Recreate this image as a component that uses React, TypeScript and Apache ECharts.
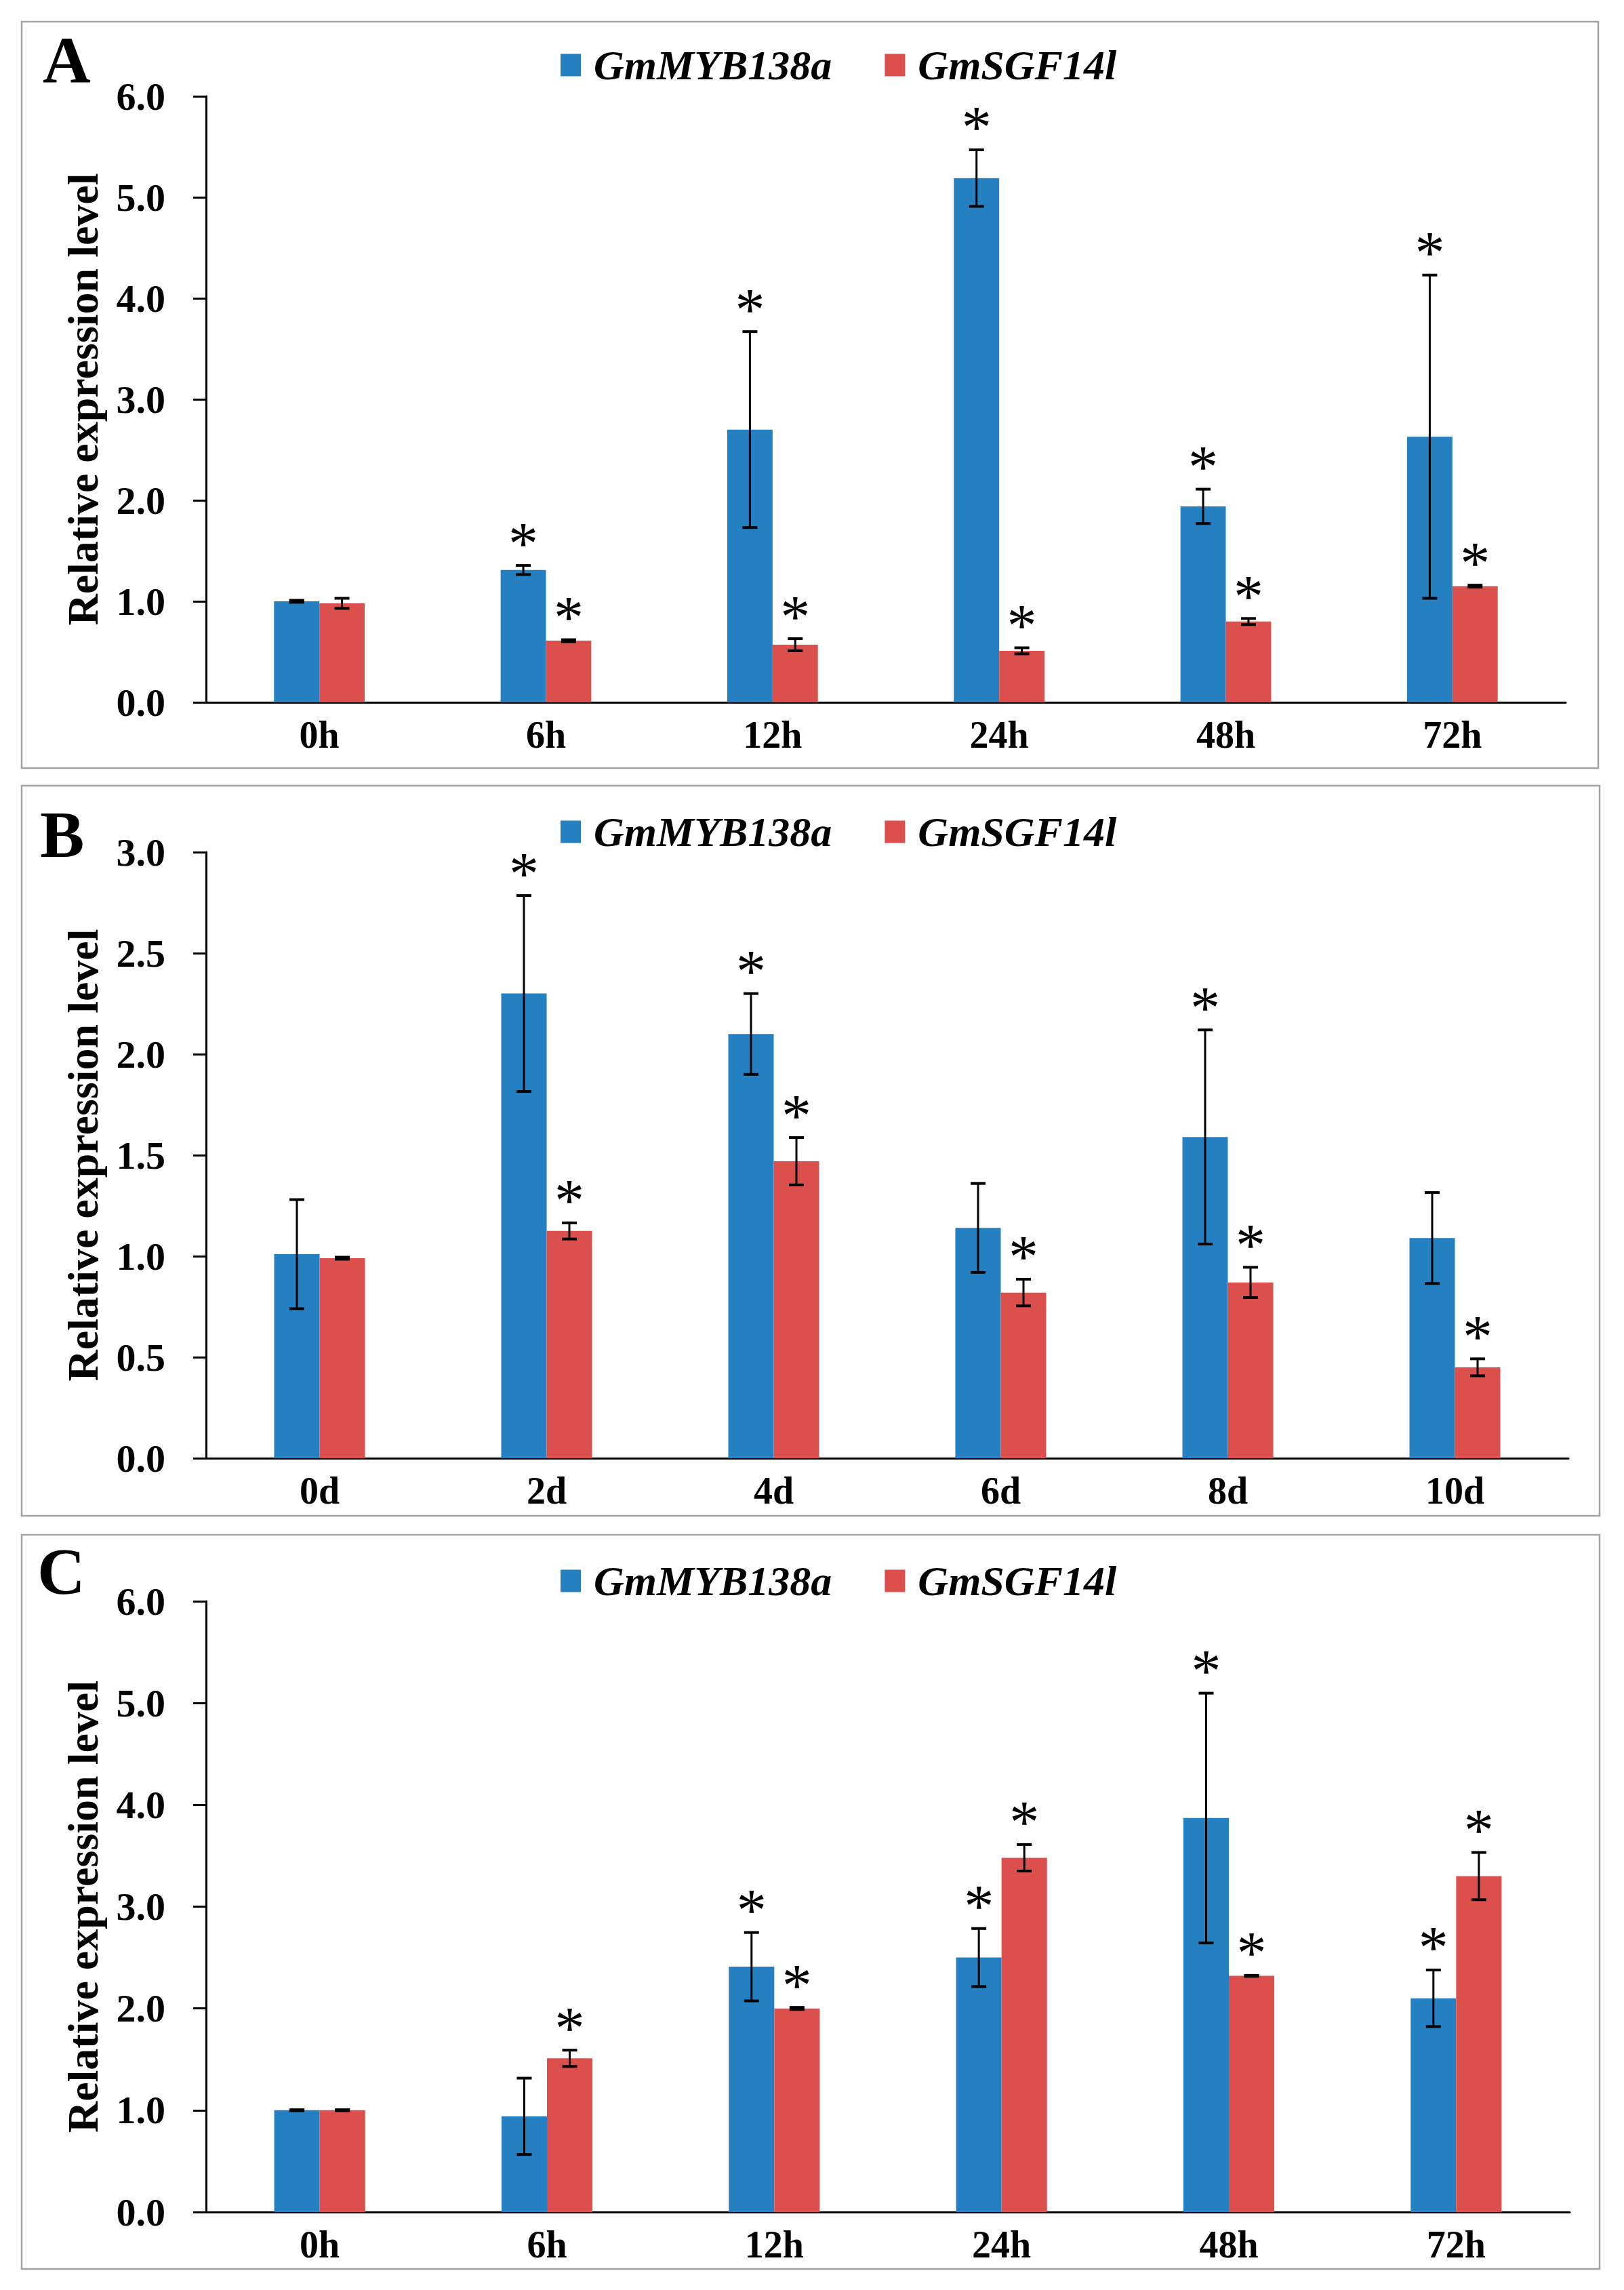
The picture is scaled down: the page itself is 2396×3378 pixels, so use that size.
import React, { useEffect, useRef } from "react";
import * as echarts from "echarts";

// ---------- Data ----------
const seriesNames = ["GmMYB138a", "GmSGF14l"];

// Panel A
const catsA = ["0h", "6h", "12h", "24h", "48h", "72h"];
const mybA = [1.0, 1.31, 2.7, 5.19, 1.94, 2.63];
const mybAErr = [0.01, 0.045, 0.97, 0.28, 0.17, 1.6];
const mybASig = [0, 1, 1, 1, 1, 1];
const sgfA = [0.98, 0.61, 0.57, 0.51, 0.8, 1.15];
const sgfAErr = [0.05, 0.01, 0.06, 0.03, 0.03, 0.01];
const sgfASig = [0, 1, 1, 1, 1, 1];

// Panel B
const catsB = ["0d", "2d", "4d", "6d", "8d", "10d"];
const mybB = [1.01, 2.3, 2.1, 1.14, 1.59, 1.09];
const mybBErr = [0.27, 0.485, 0.2, 0.22, 0.53, 0.225];
const mybBSig = [0, 1, 1, 0, 1, 0];
const sgfB = [0.99, 1.125, 1.47, 0.82, 0.87, 0.45];
const sgfBErr = [0.005, 0.04, 0.117, 0.066, 0.075, 0.042];
const sgfBSig = [0, 1, 1, 1, 1, 1];

// Panel C
const catsC = ["0h", "6h", "12h", "24h", "48h", "72h"];
const mybC = [1.0, 0.94, 2.41, 2.5, 3.87, 2.1];
const mybCErr = [0.005, 0.375, 0.336, 0.285, 1.227, 0.278];
const mybCSig = [0, 0, 1, 1, 1, 1];
const sgfC = [1.0, 1.51, 2.0, 3.48, 2.32, 3.3];
const sgfCErr = [0.005, 0.08, 0.01, 0.13, 0.005, 0.232];
const sgfCSig = [0, 1, 1, 1, 1, 1];

// y axis ticks
const yMaxA = 6, yStepA = 1;
const yMaxB = 3, yStepB = 0.5;
const yMaxC = 6, yStepC = 1;

const panelLetters = ["A", "B", "C"];
const yTitle = "Relative expression level";

// ---------- Styles ----------
const BLUE = "#2580C1";
const RED = "#DB504D";
const FONT = "'Liberation Serif', 'Times New Roman', serif";

const panels = [
  { cats: catsA, myb: mybA, mybErr: mybAErr, mybSig: mybASig, sgf: sgfA, sgfErr: sgfAErr, sgfSig: sgfASig, yMax: yMaxA, yStep: yStepA,
    grid: { left: 304, top: 142, width: 2006, height: 894 }, frame: { x: 32, y: 32, w: 2326, h: 1101 }, legendTop: 60, letter: { x: 63, y: 88 } },
  { cats: catsB, myb: mybB, mybErr: mybBErr, mybSig: mybBSig, sgf: sgfB, sgfErr: sgfBErr, sgfSig: sgfBSig, yMax: yMaxB, yStep: yStepB,
    grid: { left: 304, top: 1257, width: 2010, height: 894 }, frame: { x: 32, y: 1159, w: 2328, h: 1077 }, legendTop: 1191, letter: { x: 59, y: 1231 } },
  { cats: catsC, myb: mybC, mybErr: mybCErr, mybSig: mybCSig, sgf: sgfC, sgfErr: sgfCErr, sgfSig: sgfCSig, yMax: yMaxC, yStep: yStepC,
    grid: { left: 304, top: 2362, width: 2012, height: 901 }, frame: { x: 32, y: 2264, w: 2328, h: 1083 }, legendTop: 2296, letter: { x: 55, y: 2318 } },
];

function buildOption() {
  const grid: any[] = [];
  const xAxis: any[] = [];
  const yAxis: any[] = [];
  const series: any[] = [];
  const legend: any[] = [];
  const graphic: any[] = [];

  panels.forEach((p, idx) => {
    grid.push({ ...p.grid, containLabel: false });
    xAxis.push({
      type: "category",
      gridIndex: idx,
      data: p.cats,
      axisLine: { lineStyle: { color: "#000", width: 3 } },
      axisTick: { show: false },
      axisLabel: { color: "#000", fontSize: 56, fontWeight: "bold", fontFamily: FONT, margin: 20 },
      splitLine: { show: false },
    });
    yAxis.push({
      type: "value",
      gridIndex: idx,
      min: 0,
      max: p.yMax,
      interval: p.yStep,
      name: yTitle,
      nameLocation: "middle",
      nameGap: 150,
      nameTextStyle: { color: "#000", fontSize: 64, fontWeight: "bold", fontFamily: FONT },
      axisLine: { show: true, lineStyle: { color: "#000", width: 3 } },
      axisTick: { show: true, length: 19, lineStyle: { color: "#000", width: 3 } },
      axisLabel: { color: "#000", fontSize: 58, fontWeight: "bold", fontFamily: FONT, margin: 60, formatter: (v: number) => v.toFixed(1) },
      splitLine: { show: false },
    });
    series.push({
      name: seriesNames[0], type: "bar", xAxisIndex: idx, yAxisIndex: idx, data: p.myb,
      itemStyle: { color: BLUE }, barGap: "0%", barCategoryGap: "60%",
    });
    series.push({
      name: seriesNames[1], type: "bar", xAxisIndex: idx, yAxisIndex: idx, data: p.sgf,
      itemStyle: { color: RED }, barGap: "0%", barCategoryGap: "60%",
    });
    const errData: number[][] = [];
    p.cats.forEach((_, i) => {
      errData.push([i, p.myb[i], p.mybErr[i], 0, p.mybSig[i]]);
      errData.push([i, p.sgf[i], p.sgfErr[i], 1, p.sgfSig[i]]);
    });
    series.push({
      type: "custom",
      xAxisIndex: idx,
      yAxisIndex: idx,
      data: errData,
      encode: { x: 0, y: 1 },
      z: 5,
      renderItem: (params: any, api: any) => {
        const cat = api.value(0);
        const val = api.value(1);
        const err = api.value(2);
        const side = api.value(3);
        const sig = api.value(4);
        const bandW = api.size([1, 0])[0];
        const off = (side === 0 ? -1 : 1) * bandW * 0.1;
        const top = api.coord([cat, val + err]);
        const bot = api.coord([cat, val - err]);
        const x = top[0] + off;
        const cap = 11;
        const children: any[] = [
          { type: "line", shape: { x1: x, y1: top[1], x2: x, y2: bot[1] }, style: { stroke: "#000", lineWidth: 3 } },
          { type: "line", shape: { x1: x - cap, y1: top[1], x2: x + cap, y2: top[1] }, style: { stroke: "#000", lineWidth: 4 } },
          { type: "line", shape: { x1: x - cap, y1: bot[1], x2: x + cap, y2: bot[1] }, style: { stroke: "#000", lineWidth: 4 } },
        ];
        if (sig) {
          children.push({
            type: "text",
            x: x,
            y: top[1] - 33,
            style: { text: "*", fontSize: 88, fontFamily: FONT, fill: "#000", align: "center", verticalAlign: "middle" },
          });
        }
        return { type: "group", children };
      },
    });
    legend.push({
      data: seriesNames,
      left: 822,
      top: p.legendTop,
      icon: "rect",
      itemWidth: 30,
      itemHeight: 33,
      itemGap: 78,
      selectedMode: false,
      textStyle: { color: "#000", fontSize: 62, fontWeight: "bold", fontStyle: "italic", fontFamily: FONT, padding: [0, 0, 0, 14] },
    });
    graphic.push({
      type: "rect",
      shape: { x: p.frame.x, y: p.frame.y, width: p.frame.w, height: p.frame.h },
      style: { fill: "none", stroke: "#a3a3a3", lineWidth: 2.5 },
      z: 0,
      silent: true,
    });
    graphic.push({
      type: "text",
      x: p.letter.x,
      y: p.letter.y,
      style: { text: panelLetters[idx], fontSize: 98, fontWeight: "bold", fontFamily: FONT, fill: "#000", align: "left", verticalAlign: "middle" },
      z: 10,
    });
  });

  return { animation: false, backgroundColor: "#fff", grid, xAxis, yAxis, series, legend, graphic };
}

export default function App() {
  const ref = useRef<HTMLDivElement>(null);
  useEffect(() => {
    if (!ref.current) return;
    const chart = echarts.init(ref.current, null, { renderer: "svg" });
    chart.setOption(buildOption() as any);
    return () => chart.dispose();
  }, []);
  return (
    <div
      ref={ref}
      style={{ position: "absolute", left: 0, top: 0, width: 2396, height: 3378, background: "#fff" }}
    />
  );
}
